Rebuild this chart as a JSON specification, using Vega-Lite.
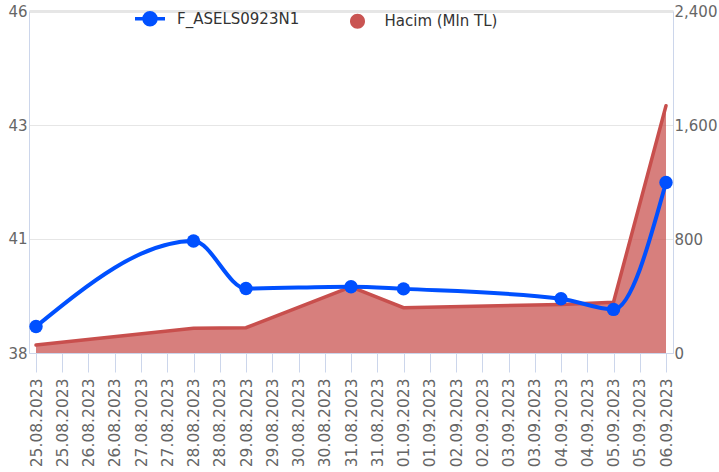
{
  "$schema": "https://vega.github.io/schema/vega-lite/v6.json",
  "autosize": {"type": "none"},
  "padding": {"left": 29, "top": 11, "right": 46, "bottom": 119},
  "width": 644,
  "height": 342,
  "background": "white",
  "data": {
    "values": [
      {"date": "2023-08-25T00:00:00Z", "price": 38.62, "volume": 56},
      {"date": "2023-08-28T00:00:00Z", "price": 40.62, "volume": 174},
      {"date": "2023-08-29T00:00:00Z", "price": 39.51, "volume": 178},
      {"date": "2023-08-31T00:00:00Z", "price": 39.55, "volume": 464},
      {"date": "2023-09-01T00:00:00Z", "price": 39.50, "volume": 318},
      {"date": "2023-09-04T00:00:00Z", "price": 39.27, "volume": 341},
      {"date": "2023-09-05T00:00:00Z", "price": 39.02, "volume": 356},
      {"date": "2023-09-06T00:00:00Z", "price": 41.99, "volume": 1735}
    ]
  },
  "encoding": {
    "x": {
      "field": "date",
      "type": "temporal",
      "scale": {
        "type": "utc",
        "domain": [
          {"year": 2023, "month": 8, "date": 24, "hours": 20, "minutes": 48, "utc": true},
          {"year": 2023, "month": 9, "date": 6, "hours": 3, "minutes": 12, "utc": true}
        ]
      },
      "axis": {
        "title": null,
        "format": "%d.%m.%Y",
        "values": [
          {"year": 2023, "month": 8, "date": 25, "hours": 0, "utc": true},
          {"year": 2023, "month": 8, "date": 25, "hours": 12, "utc": true},
          {"year": 2023, "month": 8, "date": 26, "hours": 0, "utc": true},
          {"year": 2023, "month": 8, "date": 26, "hours": 12, "utc": true},
          {"year": 2023, "month": 8, "date": 27, "hours": 0, "utc": true},
          {"year": 2023, "month": 8, "date": 27, "hours": 12, "utc": true},
          {"year": 2023, "month": 8, "date": 28, "hours": 0, "utc": true},
          {"year": 2023, "month": 8, "date": 28, "hours": 12, "utc": true},
          {"year": 2023, "month": 8, "date": 29, "hours": 0, "utc": true},
          {"year": 2023, "month": 8, "date": 29, "hours": 12, "utc": true},
          {"year": 2023, "month": 8, "date": 30, "hours": 0, "utc": true},
          {"year": 2023, "month": 8, "date": 30, "hours": 12, "utc": true},
          {"year": 2023, "month": 8, "date": 31, "hours": 0, "utc": true},
          {"year": 2023, "month": 8, "date": 31, "hours": 12, "utc": true},
          {"year": 2023, "month": 9, "date": 1, "hours": 0, "utc": true},
          {"year": 2023, "month": 9, "date": 1, "hours": 12, "utc": true},
          {"year": 2023, "month": 9, "date": 2, "hours": 0, "utc": true},
          {"year": 2023, "month": 9, "date": 2, "hours": 12, "utc": true},
          {"year": 2023, "month": 9, "date": 3, "hours": 0, "utc": true},
          {"year": 2023, "month": 9, "date": 3, "hours": 12, "utc": true},
          {"year": 2023, "month": 9, "date": 4, "hours": 0, "utc": true},
          {"year": 2023, "month": 9, "date": 4, "hours": 12, "utc": true},
          {"year": 2023, "month": 9, "date": 5, "hours": 0, "utc": true},
          {"year": 2023, "month": 9, "date": 5, "hours": 12, "utc": true},
          {"year": 2023, "month": 9, "date": 6, "hours": 0, "utc": true}
        ],
        "labelAngle": -90,
        "labelFlush": false,
        "labelOverlap": false,
        "grid": false,
        "domainColor": "#ccd6eb",
        "tickColor": "#ccd6eb",
        "tickSize": 19,
        "tickWidth": 1,
        "labelPadding": 6,
        "labelFontSize": 15.5,
        "labelColor": "#666666",
        "labelFont": "DejaVu Sans"
      }
    }
  },
  "layer": [
    {
      "encoding": {
        "y": {
          "field": "volume",
          "type": "quantitative",
          "scale": {"domain": [0, 2400], "nice": false, "zero": true},
          "axis": {
            "orient": "right",
            "title": null,
            "values": [0, 800, 1600, 2400],
            "format": ",.0f",
            "grid": false,
            "ticks": false,
            "domainColor": "#ccd6eb",
            "labelPadding": 1,
            "labelFontSize": 15,
            "labelColor": "#666666",
            "labelFont": "DejaVu Sans"
          }
        }
      },
      "layer": [
        {
          "mark": {"type": "area", "fillOpacity": 0.75, "interpolate": "linear"},
          "encoding": {
            "color": {
              "datum": "Hacim (Mln TL)",
              "scale": {"domain": ["F_ASELS0923N1", "Hacim (Mln TL)"], "range": ["#0050ff", "#c95452"]},
              "legend": {
                "title": null,
                "orient": "none",
                "direction": "horizontal",
                "legendX": 113.5,
                "legendY": 0,
                "padding": 0,
                "symbolSize": 900,
                "labelOffset": 19.5,
                "columnPadding": 50.5,
                "labelFontSize": 15,
                "labelColor": "#333333",
                "labelFont": "DejaVu Sans",
                "encode": {
                  "symbols": {
                    "update": {
                      "shape": {"signal": "datum.value === 'F_ASELS0923N1' ? 'M-1,0L1,0M-0.4,0A0.4,0.4,0,1,1,0.4,0A0.4,0.4,0,1,1,-0.4,0Z' : 'M-0.5,0A0.5,0.5,0,1,1,0.5,0A0.5,0.5,0,1,1,-0.5,0Z'"},
                      "fill": {"signal": "scale('color', datum.value)"},
                      "stroke": {"signal": "scale('color', datum.value)"},
                      "strokeWidth": {"signal": "datum.value === 'F_ASELS0923N1' ? 3.5 : 0"},
                      "opacity": {"value": 1},
                      "fillOpacity": {"value": 1},
                      "strokeOpacity": {"value": 1}
                    }
                  }
                }
              }
            }
          }
        },
        {
          "mark": {"type": "line", "color": "#c84f4d", "strokeWidth": 3.5, "strokeCap": "round"},
          "encoding": {}
        }
      ]
    },
    {
      "encoding": {
        "y": {
          "field": "price",
          "type": "quantitative",
          "scale": {"domain": [38, 46], "nice": false, "zero": false},
          "axis": {
            "orient": "left",
            "title": null,
            "values": [38, 40.6667, 43.3333, 46],
            "format": ".0f",
            "grid": true,
            "gridColor": "#e6e6e6",
            "gridWidth": {"condition": {"test": "datum.value > 45.9", "value": 3}, "value": 1},
            "ticks": false,
            "domainColor": "#ccd6eb",
            "labelPadding": 2,
            "labelFontSize": 15,
            "labelColor": "#666666",
            "labelFont": "DejaVu Sans"
          }
        },
        "color": {"datum": "F_ASELS0923N1"}
      },
      "layer": [
        {"mark": {"type": "line", "strokeWidth": 4, "interpolate": "monotone"}},
        {"mark": {"type": "point", "filled": true, "opacity": 1, "size": 180}}
      ]
    }
  ],
  "resolve": {"scale": {"y": "independent"}},
  "config": {"view": {"stroke": null}}
}
